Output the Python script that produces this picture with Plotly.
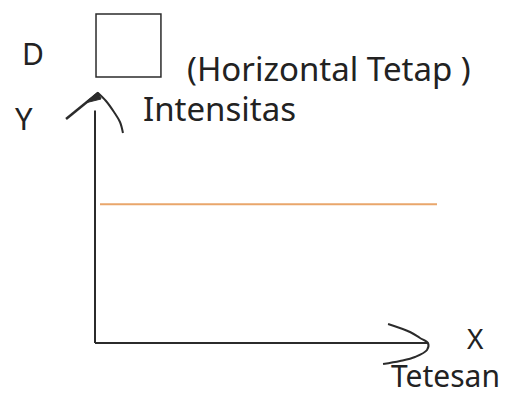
import plotly.graph_objects as go

# constant intensity line (Tetesan vs Intensitas)
tetesan = [0.15, 10.27]
intensitas = [5.55, 5.55]

# axis extents (data units)
x_axis_end = 10.0
y_axis_end = 9.3

# hand drawn arrow heads
y_head_left_x = [-0.87, 0.09]
y_head_left_y = [8.96, 10.0]
y_head_right_x = [0.09, 0.33, 0.57, 0.75, 0.84]
y_head_right_y = [10.0, 9.68, 9.24, 8.84, 8.4]
y_head_tip_x = [-0.30, 0.09, 0.18, -0.30]
y_head_tip_y = [9.6, 10.04, 9.76, 9.6]
x_head_x = [8.80, 9.46, 9.76, 10.0, 9.97, 9.61, 9.16, 8.65]
x_head_y = [0.76, 0.44, 0.20, 0.0, -0.28, -0.56, -0.72, -0.84]

ink = '#2b2b2b'
font = dict(family='Noto Sans, Lato, sans-serif', color='#222222')

fig = go.Figure()
fig.add_scatter(x=[0, x_axis_end], y=[0, 0], mode='lines', line=dict(color=ink, width=2))
fig.add_scatter(x=[0, 0], y=[0, y_axis_end], mode='lines', line=dict(color=ink, width=2))
fig.add_scatter(x=y_head_left_x, y=y_head_left_y, mode='lines', line=dict(color=ink, width=2.5))
fig.add_scatter(x=y_head_right_x, y=y_head_right_y, mode='lines',
                line=dict(color=ink, width=2, shape='spline'))
fig.add_scatter(x=y_head_tip_x, y=y_head_tip_y, mode='lines', fill='toself', fillcolor=ink,
                line=dict(color=ink, width=1))
fig.add_scatter(x=x_head_x, y=x_head_y, mode='lines', line=dict(color=ink, width=2, shape='spline'))
fig.add_scatter(x=tetesan, y=intensitas, mode='lines', line=dict(color='#E9A66B', width=2))

# legend box
fig.add_shape(type='rect', x0=0.03, x1=1.98, y0=10.64, y1=13.16, line=dict(color=ink, width=1.5))

fig.add_annotation(x=-1.86, y=11.6, text='D', showarrow=False, font=dict(size=30, **font))
fig.add_annotation(x=2.70, y=10.98, text='(Horizontal Tetap )', xanchor='left', showarrow=False,
                   font=dict(size=33, **font))
fig.add_annotation(x=-2.13, y=9.02, text='Y', showarrow=False, font=dict(size=31, **font))
fig.add_annotation(x=1.37, y=9.38, text='Intensitas', xanchor='left', showarrow=False,
                   font=dict(size=33, **font))
fig.add_annotation(x=11.44, y=0.2, text='X', showarrow=False, font=dict(size=28, **font))
fig.add_annotation(x=8.86, y=-1.28, text='Tetesan', xanchor='left', showarrow=False,
                   borderpad=0, font=dict(size=30, **font))

# page body adds an 8px offset, so the figure is 8px smaller and ranges start 8px in
fig.update_layout(width=521, height=386, showlegend=False,
                  margin=dict(l=0, r=0, t=0, b=0),
                  paper_bgcolor='white', plot_bgcolor='white',
                  xaxis=dict(range=[-2.613, 13.033], visible=False),
                  yaxis=dict(range=[-2.04, 13.4], visible=False))

fig.write_html("out.html")
